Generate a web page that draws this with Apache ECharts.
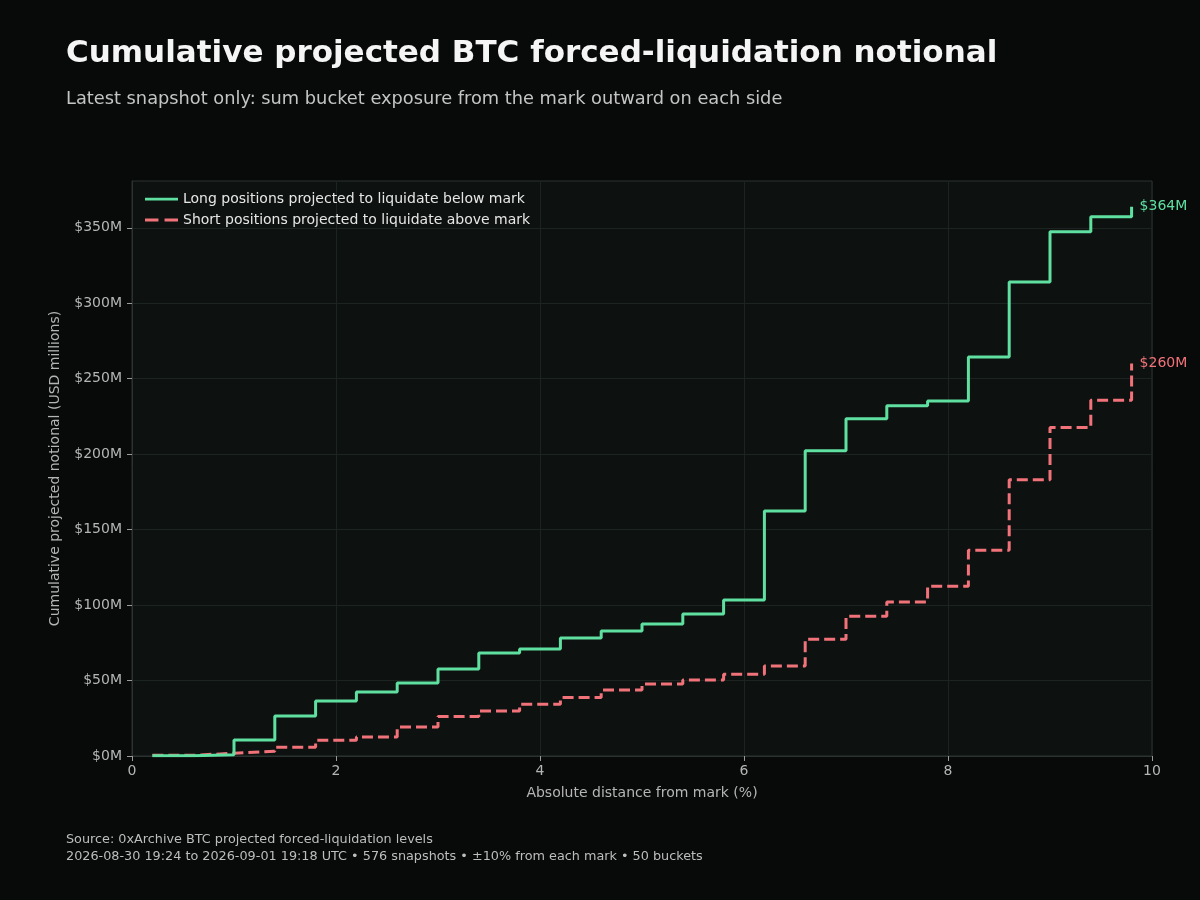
<!DOCTYPE html>
<html>
<head>
<meta charset="utf-8">
<script src="https://cdn.jsdelivr.net/npm/echarts@6/dist/echarts.min.js"></script>
<style>
  html, body { margin: 0; padding: 0; background: #080a0a; }
  #chart { width: 1200px; height: 900px; }
</style>
</head>
<body>
<div id="chart"></div>
<script>
// bucket centres, % distance from mark
const distances = [0.2, 0.6, 1.0, 1.4, 1.8, 2.2, 2.6, 3.0, 3.4, 3.8, 4.2, 4.6, 5.0,
  5.4, 5.8, 6.2, 6.6, 7.0, 7.4, 7.8, 8.2, 8.6, 9.0, 9.4, 9.8];

// cumulative notional, USD millions
const longCum = [0.2, 0.8, 10.6, 26.5, 36.5, 42.4, 48.4, 57.7, 68.3, 70.9, 78.2, 82.9, 87.5,
  94.1, 103.4, 162.4, 202.2, 223.4, 232.0, 235.3, 264.4, 314.1, 347.3, 357.3, 364.0];
const shortCum = [0.5, 1.8, 3.1, 5.8, 10.4, 12.6, 19.2, 26.1, 29.8, 34.3, 38.7, 43.7, 47.7,
  50.4, 54.2, 59.7, 77.4, 92.6, 102.1, 112.5, 136.3, 183.0, 217.6, 235.8, 260.0];

const yTicks = [0, 50, 100, 150, 200, 250, 300, 350];
const xTicks = [0, 2, 4, 6, 8, 10];

const green = '#5fe0a1';
const red = '#f2727a';

const pairs = vals => distances.map((d, i) => [d, vals[i]]);

const chart = echarts.init(document.getElementById('chart'));
chart.setOption({
  backgroundColor: '#080a0a',
  animation: false,
  textStyle: { fontFamily: 'DejaVu Sans' },
  title: [
    {
      text: 'Cumulative projected BTC forced-liquidation notional',
      left: 61, top: 33,
      textStyle: { color: '#f5f5f5', fontSize: 31, fontWeight: 'bold', fontFamily: 'DejaVu Sans' }
    },
    {
      text: 'Latest snapshot only: sum bucket exposure from the mark outward on each side',
      left: 61, top: 85,
      textStyle: { color: '#c4c4c4', fontSize: 17.8, fontWeight: 'normal', fontFamily: 'DejaVu Sans' }
    },
    {
      text: 'Source: 0xArchive BTC projected forced-liquidation levels\n2026-08-30 19:24 to 2026-09-01 19:18 UTC \u2022 576 snapshots \u2022 \u00b110% from each mark \u2022 50 buckets',
      left: 61, top: 826,
      textStyle: { color: '#bdbdbd', fontSize: 12.8, fontWeight: 'normal', lineHeight: 17, fontFamily: 'DejaVu Sans' }
    }
  ],
  legend: {
    left: 140, top: 187,
    orient: 'vertical',
    itemGap: 7,
    itemWidth: 33, itemHeight: 14,
    textStyle: { color: '#e6e6e6', fontSize: 14 },
    data: [
      { name: 'Long positions projected to liquidate below mark', icon: 'path://M0,6 L30,6 L30,8.5 L0,8.5 Z', itemStyle: { color: green } },
      { name: 'Short positions projected to liquidate above mark', icon: 'path://M0,6 L11,6 L11,8.5 L0,8.5 Z M16,6 L27,6 L27,8.5 L16,8.5 Z', itemStyle: { color: red } }
    ]
  },
  grid: {
    left: 132, right: 48, top: 181, bottom: 144,
    show: true,
    backgroundColor: '#0d1211',
    borderColor: '#2a3330',
    borderWidth: 1
  },
  xAxis: {
    type: 'value',
    min: 0, max: 10, interval: 2,
    name: 'Absolute distance from mark (%)',
    nameLocation: 'middle',
    nameGap: 30,
    nameTextStyle: { color: '#b5b5b5', fontSize: 14 },
    axisLine: { show: true, lineStyle: { color: '#2a3330' } },
    axisTick: { show: true, length: 5, customValues: xTicks, lineStyle: { color: '#9a9a9a' } },
    axisLabel: { color: '#b5b5b5', fontSize: 14, margin: 8, customValues: xTicks },
    splitLine: { show: true, lineStyle: { color: '#1c2422', width: 1 } }
  },
  yAxis: {
    type: 'value',
    min: 0, max: 381, interval: 50,
    name: 'Cumulative projected notional (USD millions)',
    nameLocation: 'middle',
    nameGap: 70,
    nameTextStyle: { color: '#b5b5b5', fontSize: 14 },
    axisLine: { show: true, lineStyle: { color: '#2a3330' } },
    axisTick: { show: true, length: 5, customValues: yTicks, lineStyle: { color: '#9a9a9a' } },
    axisLabel: {
      color: '#b5b5b5', fontSize: 14, margin: 10,
      customValues: yTicks,
      formatter: v => '$' + v + 'M'
    },
    splitLine: { show: true, lineStyle: { color: '#1c2422', width: 1 } }
  },
  series: [
    {
      name: 'Long positions projected to liquidate below mark',
      type: 'line',
      step: 'end',
      data: pairs(longCum),
      showSymbol: false,
      color: green,
      lineStyle: { color: green, width: 3 },
      endLabel: {
        show: true, distance: 8,
        color: green, fontSize: 14,
        formatter: p => '$' + Math.round(p.value[1]) + 'M'
      },
      z: 3
    },
    {
      name: 'Short positions projected to liquidate above mark',
      type: 'line',
      step: 'end',
      data: pairs(shortCum),
      showSymbol: false,
      color: red,
      lineStyle: { color: red, width: 3, type: [11, 5] },
      endLabel: {
        show: true, distance: 8,
        color: red, fontSize: 14,
        formatter: p => '$' + Math.round(p.value[1]) + 'M'
      },
      z: 2
    }
  ]
});
</script>
</body>
</html>
